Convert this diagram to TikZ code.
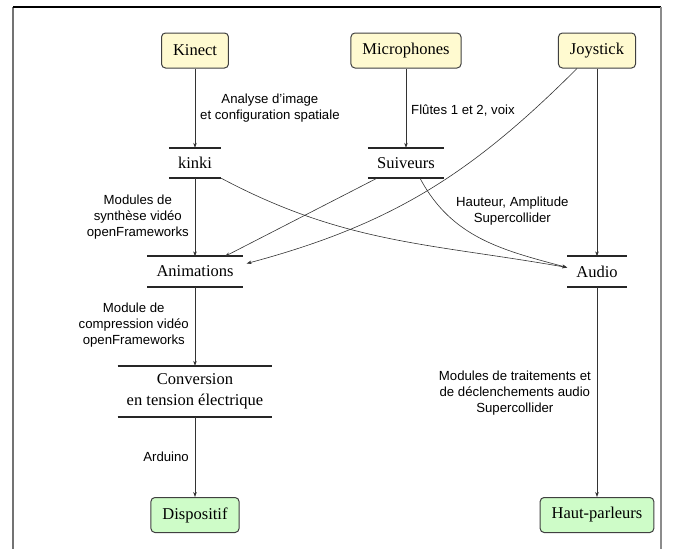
\documentclass[tikz,border=0pt]{standalone}
\usepackage{fontspec}
\setmainfont{Liberation Serif}
\newfontfamily\lblfont{Liberation Sans}
\usetikzlibrary{arrows.meta}
\definecolor{srcfill}{RGB}{255,250,208}
\definecolor{dstfill}{RGB}{206,252,200}
\begin{document}
\begin{tikzpicture}[x=1pt,y=1pt,
  box/.style={draw=black!75, line width=1pt, rounded corners=4pt, minimum height=35pt, inner xsep=11.5pt, font=\fontsize{16.5}{19.5}\selectfont},
  srcbox/.style={box, fill=srcfill},
  dstbox/.style={box, fill=dstfill},
  store/.style={inner xsep=9pt, minimum height=30pt, font=\fontsize{16.5}{20.5}\selectfont, align=center,
    append after command={(\tikzlastnode.north west) edge[-, line width=1.8pt, black!85] (\tikzlastnode.north east)
                          (\tikzlastnode.south west) edge[-, line width=1.8pt, black!85] (\tikzlastnode.south east)}},
  lbl/.style={font=\lblfont\fontsize{13.2}{16}\selectfont, align=center, inner sep=0pt},
  conn/.style={line width=0.6pt, black!80, -{Stealth[length=5pt,width=3.6pt]}},
  framel/.style={line width=1.4pt}
]
\useasboundingbox (0,0) rectangle (673,-549);
\draw[framel, black!55] (13,-7) -- (13,-549);
\draw[framel, black] (13,-7) -- (661,-7);
\draw[framel, black!45] (661,-7) -- (661,-549);

\node[srcbox] (kinect) at (195,-50.5) {Kinect};
\node[srcbox] (micro) at (406,-50.5) {Microphones};
\node[srcbox] (joy) at (597,-50.5) {Joystick};
\node[store] (kinki) at (195,-163) {kinki};
\node[store] (suiv) at (406,-163) {Suiveurs};
\node[store] (anim) at (195,-271.5) {Animations};
\node[store] (audio) at (597,-271.5) {Audio};
\node[store, minimum height=51pt] (conv) at (195,-391.5) {Conversion\\en tension électrique};
\node[dstbox] (disp) at (195,-515) {Dispositif};
\node[dstbox] (hp) at (597,-515) {Haut-parleurs};

\node[lbl, anchor=west] (l1) at (200,-108) {Analyse d’image\\et configuration spatiale};
\node[lbl, anchor=west] (l2) at (411,-111) {Flûtes 1 et 2, voix};
\node[lbl, anchor=east] (l3) at (189,-217) {Modules de\\synthèse vidéo\\openFrameworks};
\node[lbl, anchor=west] (l4) at (456,-211) {Hauteur, Amplitude\\Supercollider};
\node[lbl, anchor=east] (l5) at (189,-325) {Module de\\compression vidéo\\openFrameworks};
\node[lbl, anchor=east] (l6) at (189,-457) {Arduino};
\node[lbl, anchor=east] (l7) at (591,-393) {Modules de traitements et\\de déclenchements audio\\Supercollider};

\draw[conn] (kinect) -- (kinki);
\draw[conn] (micro) -- (suiv);
\draw[conn] (joy) -- (audio);
\draw[conn] (kinki) -- (anim);
\draw[conn] (anim) -- (conv);
\draw[conn] (conv) -- (disp);
\draw[conn] (audio) -- (hp);
\draw[conn] ([xshift=-29pt]suiv.south) -- ([xshift=30pt]anim.north);
\draw[conn] ([xshift=-20pt]joy.south) to[out=225,in=15] ([xshift=4pt,yshift=8pt]anim.east);
\draw[conn] (kinki.south east) to[out=-28,in=170] ([yshift=4pt]audio.west);
\draw[conn] ([xshift=14pt]suiv.south) to[out=-62,in=165] ([yshift=4pt]audio.west);
\end{tikzpicture}
\end{document}
